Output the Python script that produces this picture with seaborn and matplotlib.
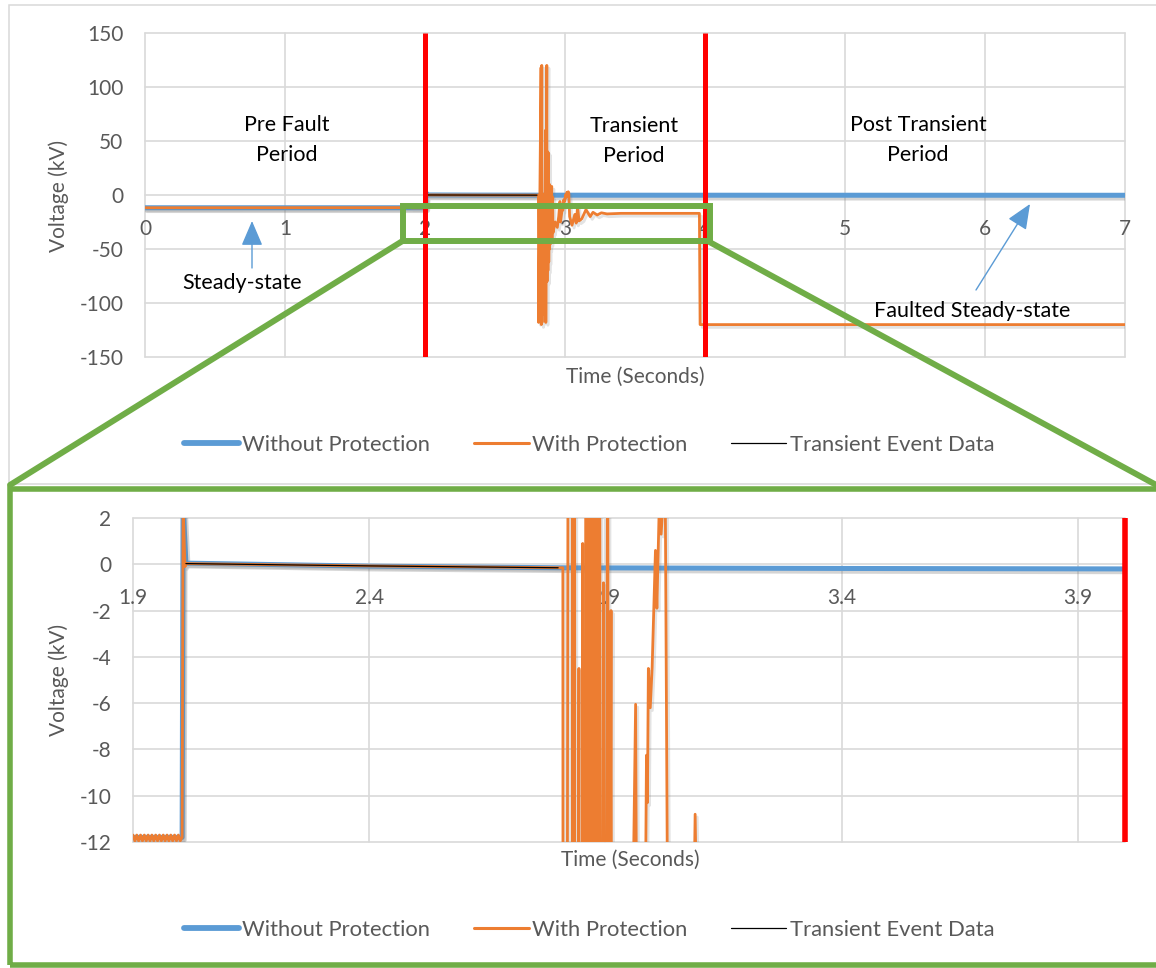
import numpy as np
import pandas as pd
import matplotlib
matplotlib.use("Agg")
import matplotlib.pyplot as plt
import matplotlib.patheffects as pe
from matplotlib.lines import Line2D
from matplotlib.patches import Rectangle
import seaborn as sns

sns.set_theme(style="white")
plt.rcParams['font.family'] = ['Lato', 'DejaVu Sans']
plt.rcParams['axes.unicode_minus'] = False

# ---------------- data ----------------
series_names = ["Without Protection", "With Protection", "Transient Event Data"]

# Without protection (kV vs s)
wo_t = [0.000, 2.004, 2.006, 2.012, 2.400, 2.800, 3.400, 4.000, 7.000]
wo_v = [-11.80, -11.80, 2.60, 0.05, -0.08, -0.15, -0.18, -0.20, -0.25]

# With protection: pre-fault ripple, fault, transient, post-transient
wp_t = [0.000,
        1.900, 1.904, 1.908, 1.912, 1.916, 1.920, 1.924, 1.928, 1.932, 1.936,
        1.940, 1.944, 1.948, 1.952, 1.956, 1.960, 1.964, 1.968, 1.972, 1.976,
        1.980, 1.984, 1.988, 1.992, 1.996, 2.000,
        2.004, 2.006, 2.010, 2.013, 2.400, 2.810,
        2.812, 2.829, 2.831, 2.834, 2.836, 2.844, 2.846, 2.852, 2.854, 2.861,
        2.863, 2.870, 2.872, 2.876, 2.878, 2.882, 2.884, 2.888, 2.890, 2.896,
        2.898, 2.905, 2.907, 2.912, 2.914, 2.930, 2.945, 2.955, 2.964,
        2.968, 2.978, 2.985, 2.987, 2.989, 2.991, 2.995, 2.999, 3.006, 3.009,
        3.014, 3.018, 3.023, 3.027, 3.033, 3.050, 3.070, 3.080, 3.090, 3.100,
        3.120, 3.150, 3.180, 3.200, 3.230, 3.260, 3.300, 3.400, 3.960, 3.965,
        7.000]
wp_v = [-11.80,
        -11.70, -11.95, -11.70, -11.95, -11.70, -11.95, -11.70, -11.95, -11.70, -11.95,
        -11.70, -11.95, -11.70, -11.95, -11.70, -11.95, -11.70, -11.95, -11.70, -11.95,
        -11.70, -11.95, -11.70, -11.95, -11.70, -11.95,
        -11.80, 2.60, -0.10, 0.03, -0.07, -0.15,
        -118.0, 118.0, -120.0, 120.0, -118.0, -4.5, -110.0, 0.9, -90.0, 60.0,
        -118.0, 120.0, -80.0, 40.0, -70.0, 39.0, -62.0, 10.0, -50.0, -0.8,
        -45.0, 8.0, -40.0, -2.0, -35.0, -25.0, -30.0, -20.0, -6.05,
        -25.0, -15.0, -14.0, -8.25, -10.3, -4.5, -6.2, -4.45, 0.6, -1.9,
        2.5, 1.3, 3.0, 2.2, -20.0, -28.0, -18.0, -26.0, -10.8, -24.0,
        -22.0, -13.5, -20.0, -16.0, -18.5, -16.5, -17.5, -17.0, -17.0, -120.0,
        -120.0]

# Transient event data
te_t = [2.012, 2.400, 2.800]
te_v = [0.03, -0.07, -0.15]

top_xticks = [0, 1, 2, 3, 4, 5, 6, 7]
top_yticks = [-150, -100, -50, 0, 50, 100, 150]
bot_xticks = [1.9, 2.4, 2.9, 3.4, 3.9]
bot_xlabels = ["1.9", "2.4", "2.9", "3.4", "3.9"]
bot_yticks = [-12, -10, -8, -6, -4, -2, 0, 2]

period_labels = ["Pre Fault\nPeriod", "Transient\nPeriod", "Post Transient\nPeriod"]
state_labels = ["Steady-state", "Faulted Steady-state"]
fault_bounds = [2, 4]

df_wo = pd.DataFrame({"t": wo_t, "v": wo_v})
df_wp = pd.DataFrame({"t": wp_t, "v": wp_v})
df_te = pd.DataFrame({"t": te_t, "v": te_v})

# ---------------- styling ----------------
BLUE = "#5B9BD5"
ORANGE = "#ED7D31"
BLACK = "#000000"
GREEN = "#70AD47"
GRID = "#D9D9D9"
TXT = "#595959"

W, H = 1156, 968
fig = plt.figure(figsize=(W / 100, H / 100), dpi=100)


def fx(px):
    return px / W


def fy(py):
    return 1 - py / H


def shadow(alpha=0.25):
    return [pe.SimpleLineShadow(offset=(1.5, -2.0), shadow_color="0.45", alpha=alpha),
            pe.Normal()]


ax1 = fig.add_axes([fx(145), fy(357), (1125 - 145) / W, (357 - 33) / H])
ax2 = fig.add_axes([fx(133), fy(842), (1125 - 133) / W, (842 - 518) / H])

for ax in (ax1, ax2):
    sns.lineplot(data=df_wo, x="t", y="v", ax=ax, color=BLUE, lw=3.6,
                 sort=False, estimator=None, path_effects=shadow(0.3))
    sns.lineplot(data=df_wp, x="t", y="v", ax=ax, color=ORANGE, lw=2.0,
                 sort=False, estimator=None, path_effects=shadow(0.2))
    sns.lineplot(data=df_te, x="t", y="v", ax=ax, color=BLACK, lw=0.9,
                 sort=False, estimator=None)
    for s in ax.spines.values():
        s.set_visible(False)
    ax.spines['bottom'].set_position(('data', 0))
    ax.tick_params(length=0, labelsize=15, labelcolor=TXT)
    ax.tick_params(axis='y', pad=15.5)
    ax.tick_params(axis='x', pad=17)
    ax.grid(True, color=GRID, lw=1.2)
    ax.set_axisbelow(True)
    ax.set_xlabel("")
    ax.set_ylabel("")

ax1.set_xlim(0, 7)
ax1.set_ylim(-150, 150)
ax1.set_xticks(top_xticks)
ax1.set_yticks(top_yticks)
for b in fault_bounds:
    ax1.axvline(b, color="red", lw=3.6, zorder=5, solid_capstyle="butt")

ax2.set_xlim(1.9, 4.0)
ax2.set_ylim(-12, 2)
ax2.set_xticks(bot_xticks)
ax2.set_xticklabels(bot_xlabels)
ax2.set_yticks(bot_yticks)
ax2.axvline(fault_bounds[1], color="red", lw=4.0, zorder=5, clip_on=False,
            solid_capstyle="butt")

for ax in (ax1, ax2):
    for gl in ax.get_xgridlines() + ax.get_ygridlines():
        gl.set_clip_on(False)

# axis titles
fig.text(fx(59), fy(196), "Voltage (kV)", rotation=90, ha="center", va="center",
         fontsize=15, color=TXT)
fig.text(fx(635), fy(377), "Time (Seconds)", ha="center", va="center",
         fontsize=15, color=TXT)
fig.text(fx(59), fy(680), "Voltage (kV)", rotation=90, ha="center", va="center",
         fontsize=15, color=TXT)
fig.text(fx(630), fy(860), "Time (Seconds)", ha="center", va="center",
         fontsize=15, color=TXT)

# period annotations
for (px, py), lab in zip([(287, 140), (634, 141), (918, 140)], period_labels):
    fig.text(fx(px), fy(py), lab, ha="center", va="center", fontsize=15.5,
             color="black", linespacing=1.65)
fig.text(fx(242), fy(283), state_labels[0], ha="center", va="center",
         fontsize=15.5, color="black")
fig.text(fx(972), fy(311), state_labels[1], ha="center", va="center",
         fontsize=15.5, color="black")

arrow_kw = dict(arrowstyle="-|>,head_length=0.7,head_width=0.3", color=BLUE, lw=1.0,
                mutation_scale=22, shrinkA=0, shrinkB=0)
ax1.annotate("", xy=(fx(252), fy(221)), xytext=(fx(252), fy(268)),
             xycoords="figure fraction", textcoords="figure fraction",
             arrowprops=arrow_kw)
ax1.annotate("", xy=(fx(1030), fy(204)), xytext=(fx(976), fy(290)),
             xycoords="figure fraction", textcoords="figure fraction",
             arrowprops=arrow_kw)

# legends
handles = [Line2D([], [], color=BLUE, lw=4.2, solid_capstyle="round"),
           Line2D([], [], color=ORANGE, lw=2.2),
           Line2D([], [], color=BLACK, lw=0.9)]
for ly in (445, 930):
    fig.legend(handles, series_names, loc="center",
               bbox_to_anchor=(fx(589), fy(ly)), ncol=3, frameon=False,
               fontsize=15.8, handlelength=2.5, handletextpad=0.15,
               columnspacing=2.0, labelcolor=TXT)

# chart area border of the upper chart
fig.add_artist(Rectangle((fx(8.5), fy(484)), (1200 - 8.5) / W, (484 - 5) / H,
                         fill=False, ec=GRID, lw=1.1, transform=fig.transFigure))

# zoom window and connectors
fig.add_artist(Rectangle((fx(402.5), fy(241)), (709.5 - 402.5) / W, (241 - 206) / H,
                         fill=False, ec=GREEN, lw=4.3, transform=fig.transFigure,
                         zorder=10))
fig.add_artist(Line2D([fx(402.5), fx(10)], [fy(241), fy(485)], color=GREEN, lw=4.3,
                      transform=fig.transFigure, zorder=10))
fig.add_artist(Line2D([fx(709.5), fx(1160)], [fy(242), fy(487)], color=GREEN, lw=4.3,
                      transform=fig.transFigure, zorder=10))
fig.add_artist(Rectangle((fx(9.5), fy(964.5)), (1200 - 9.5) / W, (964.5 - 489) / H,
                         fill=False, ec=GREEN, lw=4.0, transform=fig.transFigure,
                         zorder=10))

fig.savefig("out.png", dpi=100)
